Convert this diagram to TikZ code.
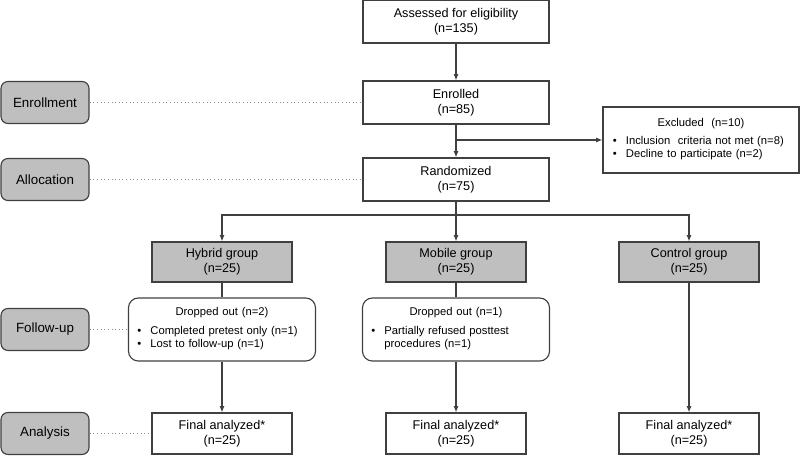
\documentclass[tikz,border=0pt]{standalone}
\usepackage{fontspec}
\setmainfont{Liberation Sans}
\usetikzlibrary{arrows.meta, positioning}
\colorlet{mygray}{black!25}
\colorlet{myline}{black!75}
\colorlet{mydots}{black!45}
\newcommand{\boxhead}[1]{\noindent\makebox[\hsize][c]{#1}\par\vspace{3.5pt}}
\newcommand{\boxitem}[1]{\par\noindent\makebox[9.2pt][l]{\textbullet}\begin{tabular}[t]{@{}l@{}}#1\end{tabular}}
\tikzset{
  >={Latex[length=4.5pt, width=3.6pt]},
  base box/.style={draw=myline, line width=0.8pt, align=center, inner sep=2pt, font=\fontsize{9}{10.6}\selectfont},
  main box/.style={base box, minimum width=4.65cm, minimum height=1.075cm},
  group box/.style={base box, fill=mygray, minimum width=3.5cm, minimum height=1.0cm},
  final box/.style={base box, minimum width=3.5cm, minimum height=1.025cm},
  stage box/.style={base box, fill=mygray, rounded corners=5pt, minimum width=2.2cm, minimum height=1.05cm, font=\fontsize{9.5}{11}\selectfont},
  detail box/.style={base box, align=left, font=\fontsize{8}{9.4}\selectfont},
  excl box/.style={detail box, inner xsep=0.25cm, text width=4.4cm, minimum height=1.65cm},
  drop box/.style={detail box, rounded corners=7pt, inner xsep=0.225cm, text width=4.225cm, minimum height=1.575cm},
  flow arrow/.style={->, line width=0.8pt, draw=myline},
  flow line/.style={line width=0.8pt, draw=myline},
  stage link/.style={dotted, line width=0.6pt, draw=mydots}
}
\begin{document}
\begin{tikzpicture}[x=0.025cm, y=0.025cm]
  \useasboundingbox (0,0) rectangle (800,457);

  % =================================================================================
  % SECTION 1: ENROLLMENT AND ALLOCATION
  % =================================================================================

  % Main column, top to bottom
  \node[main box] (Assess) at (456, 435.5) {Assessed for eligibility\\(n=135)};
  \node[main box] (Enroll) at (456, 354.5) {Enrolled\\(n=85)};
  \node[main box] (Rand) at (456, 277.5) {Randomized\\(n=75)};

  % Side box for the excluded participants
  \node[excl box] (Excl) at (701, 317) {\boxhead{Excluded\ \ (n=10)}%
    \boxitem{Inclusion\ \ criteria not met (n=8)}%
    \boxitem{Decline to participate (n=2)}};

  \draw[flow arrow] (Assess) -- (Enroll);
  \draw[flow arrow] (Enroll) -- (Rand);
  \coordinate (ExclSplit) at (Enroll.south |- Excl.west);
  \draw[flow arrow] (ExclSplit) -- (Excl);


  % =================================================================================
  % SECTION 2: GROUPS, FOLLOW-UP AND ANALYSIS
  % =================================================================================

  % --- Allocated groups ---
  \node[group box] (Grp1) at (222, 195) {Hybrid group\\(n=25)};
  \node[group box] (Grp2) at (456, 195) {Mobile group\\(n=25)};
  \node[group box] (Grp3) at (689, 195) {Control group\\(n=25)};

  % --- Drop-outs during follow-up ---
  \node[drop box] (Drop1) at (222, 127.5) {\boxhead{Dropped out (n=2)}%
    \boxitem{Completed pretest only (n=1)}%
    \boxitem{Lost to follow-up (n=1)}};
  \node[drop box] (Drop2) at (456, 127.5) {\boxhead{Dropped out (n=1)}%
    \boxitem{Partially refused posttest\\procedures (n=1)}};

  % --- Final analysis ---
  \node[final box] (Final1) at (222, 23.5) {Final analyzed*\\(n=25)};
  \node[final box] (Final2) at (456, 23.5) {Final analyzed*\\(n=25)};
  \node[final box] (Final3) at (689, 23.5) {Final analyzed*\\(n=25)};

  % Fork from randomization into the three arms
  \coordinate (Fork) at (456, 242);
  \draw[flow arrow] (Rand) -- (Grp2);
  \draw[flow arrow] (Fork) -| (Grp1);
  \draw[flow arrow] (Fork) -| (Grp3);

  \draw[flow line] (Grp1) -- (Drop1);
  \draw[flow arrow] (Drop1) -- (Final1);
  \draw[flow line] (Grp2) -- (Drop2);
  \draw[flow arrow] (Drop2) -- (Final2);
  \draw[flow arrow] (Grp3) -- (Final3);


  % =================================================================================
  % STAGE LABELS (left margin, dotted links)
  % =================================================================================

  \node[stage box] (StEnroll) at (45, 354.5) {Enrollment};
  \node[stage box] (StAlloc) at (45, 277.5) {Allocation};
  \node[stage box] (StFollow) at (45, 127.5) {Follow-up};
  \node[stage box] (StAnalysis) at (45, 23.5) {Analysis};

  \draw[stage link] (StEnroll) -- (Enroll);
  \draw[stage link] (StAlloc) -- (Rand);
  \draw[stage link] (StFollow) -- (Drop1);
  \draw[stage link] (StAnalysis) -- (Final1);

\end{tikzpicture}
\end{document}
